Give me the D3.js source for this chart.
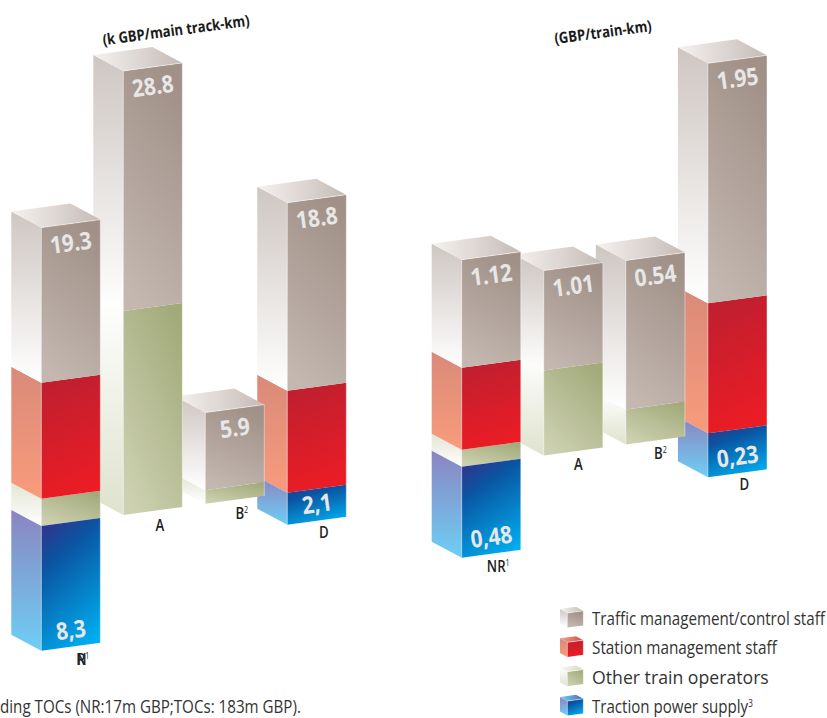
<!DOCTYPE html>
<html><head><meta charset="utf-8">
<script src="https://cdn.jsdelivr.net/npm/d3@7"></script>
<style>html,body{margin:0;padding:0;background:#fff}svg{display:block}text{font-family:"Open Sans",sans-serif}</style>
</head><body><svg id="c" width="827" height="718"></svg>
<script>
const categories = ["NR","A","B","D"];
const categoryNotes = ["1","","2",""];
const seriesKeys = ["olive","red","brown","blue"];
const legendLabels = ["Traffic management/control staff","Station management staff","Other train operators","Traction power supply"];
const legendKeys = ["brown","red","olive","blue"];
// Heights as drawn in the picture (the printed labels are not to scale)
const leftBrown = [19.4, 30.0, 9.7, 23.5];
const leftRed = [14.5, 0, 0, 12.75];
const leftOlive = [3.4, 25.5, 1.7, 0];
const leftBlue = [-15.6, 0, 0, -4.0];
const rightBrown = [1.08, 1.00, 1.49, 2.40];
const rightRed = [0.82, 0, 0, 1.30];
const rightOlive = [0.17, 0.85, 0.35, 0];
const rightBlue = [-0.91, 0, 0, -0.44];
const leftTopLabels = ["19.3","28.8","5.9","18.8"];
const leftBlueLabels = ["8,3","","","2,1"];
const rightTopLabels = ["1.12","1.01","0.54","1.95"];
const rightBlueLabels = ["0,48","","","0,23"];

const svg = d3.select("#c");
const defs = svg.append("defs");
const SK = 8/59, DX = 30, DY = 16, ANG = -7.7;

function grad(id, x1,y1,x2,y2, stops){
  const g = defs.append("linearGradient").attr("id",id)
    .attr("x1",x1).attr("y1",y1).attr("x2",x2).attr("y2",y2);
  stops.forEach(s=>g.append("stop").attr("offset",s[0]).attr("stop-color",s[1]));
}
grad("f-brown",.65,0,.35,1,[[0,"#a09087"],[1,"#c3b7b0"]]);
grad("l-brown",0,0,0,1,[[0,"#cec6c1"],[1,"#ffffff"]]);
grad("t-brown",0,.5,1,.5,[[0,"#f5f2f0"],[1,"#c6bbb5"]]);
grad("f-red",.4,0,.6,1,[[0,"#bf1f30"],[1,"#ed1c24"]]);
grad("l-red",0,0,0,1,[[0,"#d98a79"],[1,"#f99b7c"]]);
grad("f-olive",.8,0,.2,1,[[0,"#a2aa7a"],[1,"#cdd1b1"]]);
grad("l-olive",0,0,0,1,[[0,"#ffffff"],[1,"#dfe2cd"]]);
grad("ls-olive",0,0,0,1,[[0,"#e2e5d3"],[1,"#ffffff"]]);
grad("f-blue",.3,0,.7,1,[[0,"#2b3990"],[.25,"#0a55a2"],[1,"#00aeef"]]);
grad("l-blue",0,0,0,1,[[0,"#8b84c0"],[1,"#6dcff6"]]);
grad("t-red",0,.5,1,.5,[[0,"#f4a58c"],[1,"#cf4b47"]]);
grad("t-olive",0,.5,1,.5,[[0,"#f7f8ee"],[1,"#d5d8bf"]]);
grad("t-blue",0,.5,1,.5,[[0,"#7ed1f5"],[1,"#3f6fb6"]]);

const pt = a => a.map(p=>p.join(",")).join(" ");
function cube(g, key, x0, w, yT, yB, dx, dy, withTop, lid){
  const k = SK;
  const leftId = (key==="olive" && yB-yT<30 && lid) ? "ls-olive" : "l-"+key;
  g.append("polygon").attr("points",pt([[x0-dx,yT-dy],[x0,yT],[x0,yB],[x0-dx,yB-dy]]))
    .attr("fill",`url(#${leftId})`);
  g.append("polygon").attr("points",pt([[x0,yT],[x0+w,yT-w*k],[x0+w,yB-w*k],[x0,yB]]))
    .attr("fill",`url(#f-${key})`);
  if(withTop){
    g.append("polygon").attr("points",pt([[x0-dx,yT-dy],[x0-dx+w,yT-dy-w*k],[x0+w,yT-w*k],[x0,yT]]))
      .attr("fill",`url(#t-${key})`);
    g.append("path").attr("d",`M${x0},${yT}L${x0+w},${yT-w*k}`).attr("stroke","#fff").attr("stroke-width",.5).attr("fill","none");
  }
  g.append("path").attr("d",`M${x0},${yT}L${x0},${yB}`).attr("stroke","#fff").attr("stroke-opacity",.7).attr("stroke-width",.6).attr("fill","none");
  g.append("path").attr("d",`M${x0+w},${yT-w*k}L${x0+w},${yB-w*k}`).attr("stroke","#fff").attr("stroke-opacity",.7).attr("stroke-width",.6).attr("fill","none");
}
// narrow a text horizontally, like the condensed face of the reference
function place(sel,x,y,ang,sx){
  sel.attr("transform",`translate(${x},${y}) rotate(${ang}) scale(${sx},1)`);
}
function fit(sel,x,y,ang,target){
  place(sel,x,y,ang,target/sel.node().getComputedTextLength());
}

function panel(cfg){
  const x = d3.scaleBand().domain(categories).range(cfg.xRange).paddingInner(.28).paddingOuter(0);
  const y = d3.scaleLinear().domain(cfg.yDomain).range(cfg.yRange);
  const rows = categories.map((c,i)=>({cat:c,brown:cfg.brown[i],red:cfg.red[i],olive:cfg.olive[i],blue:cfg.blue[i]}));
  const stacked = d3.stack().keys(seriesKeys).offset(d3.stackOffsetDiverging)(rows);
  const x00 = x(categories[0]);
  const w = x.bandwidth();
  // draw right to left, nearer columns overlap the ones to their right
  [3,2,1,0].forEach(i=>{
    const cat = categories[i], xi = x(cat);
    const shift = (xi-x00)*SK;
    const g = svg.append("g").attr("class","col");
    stacked.forEach(s=>{
      const [a,b] = s[i];
      if(a===b) return;
      const yT = y(Math.max(a,b))-shift, yB = y(Math.min(a,b))-shift;
      cube(g, s.key, xi, w, yT, yB, DX, DY, s.key==="brown", true);
    });
    const cx = xi+w/2;
    const topV = d3.max(stacked,s=>s[i][1]), botV = d3.min(stacked,s=>s[i][0]);
    const topY = y(topV)-shift-w*SK/2, botY = y(botV)-shift-w*SK/2;
    const val = (t,yy)=>{
      const v = svg.append("text").attr("text-anchor","middle").attr("dy","0.36em")
        .attr("font-size",24).attr("font-weight",700).attr("fill","#e7e7e7").text(t);
      place(v,cx,yy,ANG,.87);
    };
    val(cfg.topLabels[i],topY+19);
    if(cfg.blueLabels[i]) val(cfg.blueLabels[i],botY-17);
    const lab = svg.append("text").attr("text-anchor","middle").attr("font-size",16.5)
      .attr("font-weight",600).attr("fill","#222");
    if(cfg.overprint && i===0){
      // the reference prints the two letters of this label on top of each other
      lab.append("tspan").text(cat[0]);
      lab.append("tspan").attr("dx",-12).text(cat.slice(1));
    } else lab.append("tspan").text(cat);
    if(categoryNotes[i]) lab.append("tspan").attr("dy",-6).attr("font-size",9).attr("font-weight",400).text(categoryNotes[i]);
    place(lab,cx+cfg.catDx[i],botY+cfg.catDy[i]+5.5,0,.8);
  });
}

panel({xRange:[41.3,346.3],yDomain:[-20,60],yRange:[526+160,526-480],
  brown:leftBrown,red:leftRed,olive:leftOlive,blue:leftBlue,topLabels:leftTopLabels,blueLabels:leftBlueLabels,
  catDx:[12,7,7,7],catDy:[13,15,14,12],overprint:true});
panel({xRange:[461.7,767],yDomain:[-1,3],yRange:[466.7+100,466.7-300],
  brown:rightBrown,red:rightRed,olive:rightOlive,blue:rightBlue,topLabels:rightTopLabels,blueLabels:rightBlueLabels,
  catDx:[7,5,5,7],catDy:[13,13,13,11],overprint:false});

// panel titles
[["(k GBP/main track-km)",176,30,148],["(GBP/train-km)",603,32,98]].forEach(t=>{
  const s = svg.append("text").attr("text-anchor","middle").attr("dy","0.36em").attr("font-size",15.5)
    .attr("font-weight",700).attr("fill","#1a1a1a").text(t[0]);
  fit(s,t[1],t[2],ANG,t[3]);
});

// footnote
fit(svg.append("text").attr("font-size",18.5).attr("fill","#333").text("ding TOCs (NR:17m GBP;TOCs: 183m GBP)."),0,713,0,301);

// legend
const legendY = d3.scalePoint().domain(legendKeys).range([613,701]);
const legendLen = [233,185,177,161];
legendKeys.forEach((k,i)=>{
  const yT = legendY(k);
  cube(svg.append("g"),k,567.3,16,yT,yT+14.6,7.3,4,true,false);
  const tx = svg.append("text").attr("font-size",18.5).attr("fill","#333");
  tx.append("tspan").text(legendLabels[i]);
  if(i===3) tx.append("tspan").attr("dy",-6).attr("font-size",10).text("3");
  fit(tx,592,yT+12,0,legendLen[i]);
});
</script></body></html>
